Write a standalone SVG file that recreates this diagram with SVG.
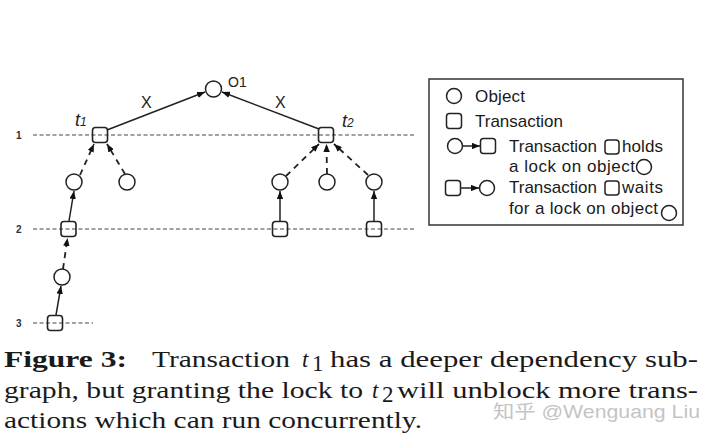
<svg xmlns="http://www.w3.org/2000/svg" width="720" height="443" viewBox="0 0 720 443">
<style>
.obj{fill:#fff;stroke:#222;stroke-width:1.5}
.txn{fill:none;stroke:#222;stroke-width:1.6}
.ltxn{fill:#fff;stroke:#222;stroke-width:1.5}
.grid{stroke:#444;stroke-width:1.2;stroke-dasharray:4 2.5;fill:none}
.hold{stroke:#222;stroke-width:1.8;stroke-dasharray:6 5;fill:none;marker-end:url(#ah)}
.wait{stroke:#222;stroke-width:1.5;fill:none;marker-end:url(#ah)}
.lvl{font-family:"Liberation Sans",Arial,sans-serif;font-size:10px;font-weight:bold;fill:#2a3040}
.lbl{font-family:"Liberation Sans",Arial,sans-serif;fill:#222}
.leg{font-family:"Liberation Sans",Arial,sans-serif;font-size:17px;fill:#1a1a1a}
.cap{font-family:"Liberation Serif","Times New Roman",serif;font-size:23px;fill:#1a1a1a}
.wm{font-family:"Liberation Sans","Noto Sans CJK SC",sans-serif;font-size:18px;fill:#c4c4c4}
</style>
<defs>
<marker id="ah" viewBox="0 0 10 8" markerWidth="8" markerHeight="6.4" refX="10" refY="4" orient="auto" markerUnits="userSpaceOnUse">
<path d="M0,0 L10,4 L0,8 z" fill="#111"/>
</marker>
</defs>
<rect width="720" height="443" fill="#fff"/>

<g id="levels">
<line class="grid" x1="33" y1="135" x2="416" y2="135"/>
<line class="grid" x1="33" y1="229" x2="416" y2="229"/>
<line class="grid" x1="33" y1="323" x2="93" y2="323"/>
<text class="lvl" x="16" y="139">1</text>
<text class="lvl" x="16" y="233">2</text>
<text class="lvl" x="16" y="327">3</text>
</g>

<g id="connectors">
<line class="wait" x1="107" y1="130" x2="205" y2="92"/>
<line class="wait" x1="319" y1="129" x2="222" y2="92"/>
<line class="hold" x1="80" y1="175" x2="94" y2="144"/>
<line class="hold" x1="125" y1="174" x2="107" y2="144"/>
<line class="hold" x1="286" y1="176" x2="319" y2="144"/>
<line class="hold" x1="327" y1="174" x2="326.5" y2="144"/>
<line class="hold" x1="368" y1="175" x2="334" y2="144"/>
<line class="wait" x1="69" y1="221" x2="74" y2="191"/>
<line class="hold" x1="63" y1="269" x2="67.5" y2="238"/>
<line class="wait" x1="56" y1="315" x2="61" y2="286"/>
<line class="wait" x1="280" y1="221" x2="280" y2="191"/>
<line class="wait" x1="374" y1="221" x2="374" y2="191"/>
</g>

<g id="o1"><circle class="obj" cx="213.5" cy="89" r="8"/>
<text class="lbl" x="228" y="87" font-size="14">O1</text></g>
<g id="t1"><rect class="txn" x="92.5" y="127.5" width="15" height="15" rx="3"/>
<text class="lbl" x="75" y="126" font-size="18" font-style="italic">t<tspan font-size="12">1</tspan></text></g>
<g id="t2"><rect class="txn" x="318.5" y="127.5" width="15" height="15" rx="3"/>
<text class="lbl" x="342" y="127" font-size="18" font-style="italic">t<tspan font-size="12">2</tspan></text></g>
<g id="x-labels">
<text class="lbl" x="141" y="108" font-size="16">X</text>
<text class="lbl" x="275" y="108" font-size="16">X</text>
</g>
<g id="c1"><circle class="obj" cx="74" cy="182" r="8"/></g>
<g id="c2"><circle class="obj" cx="127" cy="182" r="8"/></g>
<g id="c3"><circle class="obj" cx="280" cy="182" r="8"/></g>
<g id="c4"><circle class="obj" cx="327" cy="182" r="8"/></g>
<g id="c5"><circle class="obj" cx="374" cy="182" r="8"/></g>
<g id="s1"><rect class="txn" x="61" y="221.5" width="15" height="15" rx="3"/></g>
<g id="s2"><rect class="txn" x="272.5" y="221.5" width="15" height="15" rx="3"/></g>
<g id="s3"><rect class="txn" x="366.5" y="221.5" width="15" height="15" rx="3"/></g>
<g id="c6"><circle class="obj" cx="62" cy="277" r="8"/></g>
<g id="s4"><rect class="txn" x="47.5" y="315.5" width="15" height="15" rx="3"/></g>

<g id="legend">
<rect x="429" y="79" width="254" height="146" fill="#fff" stroke="#333" stroke-width="1.5"/>
<circle class="obj" cx="454" cy="96" r="7.5"/>
<text class="leg" x="475" y="102" textLength="50">Object</text>
<rect class="ltxn" x="446.5" y="113.5" width="15" height="15" rx="3"/>
<text class="leg" x="475" y="127" textLength="88">Transaction</text>
<circle class="obj" cx="455" cy="146" r="7.5"/>
<line class="wait" x1="463" y1="146" x2="480" y2="146"/>
<rect class="ltxn" x="480.5" y="138.5" width="15" height="15" rx="3"/>
<text class="leg" x="509" y="152" textLength="88">Transaction</text>
<rect class="ltxn" x="605" y="140" width="14" height="14" rx="3"/>
<text class="leg" x="622" y="152" textLength="41">holds</text>
<text class="leg" x="509" y="172" textLength="126">a lock on object</text>
<circle class="obj" cx="644" cy="167" r="7.5"/>
<rect class="ltxn" x="445.5" y="180.5" width="15" height="15" rx="3"/>
<line class="wait" x1="461" y1="188" x2="479" y2="188"/>
<circle class="obj" cx="487" cy="188" r="7.5"/>
<text class="leg" x="509" y="193" textLength="88">Transaction</text>
<rect class="ltxn" x="605" y="181" width="14" height="14" rx="3"/>
<text class="leg" x="622" y="193" textLength="41">waits</text>
<text class="leg" x="509" y="214" textLength="149">for a lock on object</text>
<circle class="obj" cx="669" cy="213" r="7.5"/>
</g>

<g id="caption">
<text class="cap" x="4" y="367" font-weight="bold" textLength="123" lengthAdjust="spacingAndGlyphs">Figure 3:</text>
<text class="cap" x="152" y="367" textLength="138" lengthAdjust="spacingAndGlyphs">Transaction</text>
<text class="cap" x="302" y="367" font-style="italic">t</text>
<text class="cap" x="312" y="371" font-size="14">1</text>
<text class="cap" x="330" y="367" textLength="368" lengthAdjust="spacingAndGlyphs">has a deeper dependency sub-</text>
<text class="cap" x="4" y="398" textLength="359" lengthAdjust="spacingAndGlyphs">graph, but granting the lock to</text>
<text class="cap" x="372" y="398" font-style="italic">t</text>
<text class="cap" x="382" y="402" font-size="14">2</text>
<text class="cap" x="397" y="398" textLength="301" lengthAdjust="spacingAndGlyphs">will unblock more trans-</text>
<text class="cap" x="4" y="428" textLength="418" lengthAdjust="spacingAndGlyphs">actions which can run concurrently.</text>
</g>
<text class="wm" x="493" y="418" textLength="207" lengthAdjust="spacingAndGlyphs">知乎 @Wenguang Liu</text>
</svg>
